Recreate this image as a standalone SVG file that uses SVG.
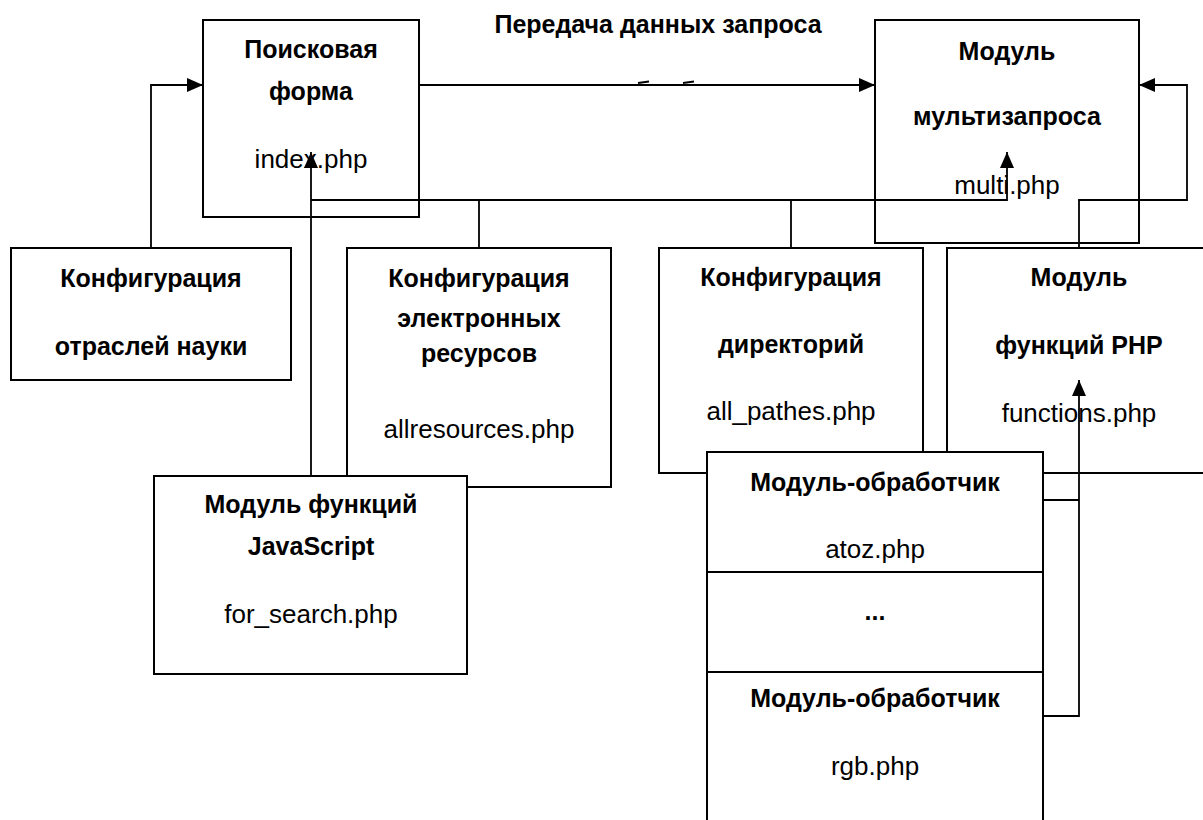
<svg xmlns="http://www.w3.org/2000/svg" width="1203" height="820" viewBox="0 0 1203 820">
<style>
  .box { fill: #ffffff; stroke: #000000; stroke-width: 2; }
  .sep { fill: none; stroke: #000000; stroke-width: 2; }
  .conn { fill: none; stroke: #000000; stroke-width: 1.8; }
  .b { font-family: "Liberation Sans", Arial, sans-serif; font-weight: bold; font-size: 25px; fill: #000000; text-anchor: middle; }
  .r { font-family: "Liberation Sans", Arial, sans-serif; font-size: 26px; fill: #000000; text-anchor: middle; }
</style>
<defs>
  <marker id="arrow" markerUnits="userSpaceOnUse" markerWidth="17" markerHeight="15" refX="16" refY="7" orient="auto">
    <path d="M0,0 L16,7 L0,14 Z" fill="#000000"/>
  </marker>
</defs>
<rect width="1203" height="820" fill="#ffffff"/>

<text class="b" x="658" y="33">Передача данных запроса</text>

<g id="node-search-form">
  <rect class="box" x="203" y="20" width="216" height="197"/>
  <text class="b" x="311" y="58">Поисковая</text>
  <text class="b" x="311" y="100">форма</text>
  <text class="r" x="311" y="168">index.php</text>
</g>

<g id="node-multi">
  <rect class="box" x="875" y="20" width="264" height="223"/>
  <text class="b" x="1007" y="60">Модуль</text>
  <text class="b" x="1007" y="125">мультизапроса</text>
  <text class="r" x="1007" y="194">multi.php</text>
</g>

<g id="node-config-science">
  <rect class="box" x="11" y="248" width="280" height="132"/>
  <text class="b" x="151" y="287">Конфигурация</text>
  <text class="b" x="151" y="355">отраслей науки</text>
</g>

<g id="node-config-resources">
  <rect class="box" x="347" y="248" width="264" height="239"/>
  <text class="b" x="479" y="287">Конфигурация</text>
  <text class="b" x="479" y="327">электронных</text>
  <text class="b" x="479" y="362">ресурсов</text>
  <text class="r" x="479" y="438">allresources.php</text>
</g>

<g id="node-config-dirs">
  <rect class="box" x="659" y="248" width="264" height="225"/>
  <text class="b" x="791" y="286">Конфигурация</text>
  <text class="b" x="791" y="353">директорий</text>
  <text class="r" x="791" y="420">all_pathes.php</text>
</g>

<g id="node-php-functions">
  <rect class="box" x="947" y="248" width="264" height="225"/>
  <text class="b" x="1079" y="286">Модуль</text>
  <text class="b" x="1079" y="354">функций PHP</text>
  <text class="r" x="1079" y="422">functions.php</text>
</g>

<g id="connectors">
  <polyline class="conn" points="151,248 151,85 203,85" marker-end="url(#arrow)"/>
  <line class="conn" x1="419" y1="85" x2="875" y2="85" marker-end="url(#arrow)"/>
  <line class="conn" x1="638" y1="83" x2="649" y2="81.5" stroke-width="2"/>
  <line class="conn" x1="683" y1="83" x2="694" y2="81.5" stroke-width="2"/>
  <line class="conn" x1="311" y1="476" x2="311" y2="152" marker-end="url(#arrow)"/>
  <polyline class="conn" points="311,200 1007,200 1007,152" marker-end="url(#arrow)"/>
  <line class="conn" x1="479" y1="248" x2="479" y2="200"/>
  <line class="conn" x1="791" y1="248" x2="791" y2="200"/>
  <polyline class="conn" points="1079,248 1079,200 1187,200 1187,85 1139,85" marker-end="url(#arrow)"/>
  <polyline class="conn" points="1043,500 1079,500"/>
  <polyline class="conn" points="1043,716 1079,716 1079,380" marker-end="url(#arrow)"/>
</g>

<g id="node-js-functions">
  <rect class="box" x="154" y="476" width="313" height="198"/>
  <text class="b" x="311" y="513">Модуль функций</text>
  <text class="b" x="311" y="555">JavaScript</text>
  <text class="r" x="311" y="623">for_search.php</text>
</g>

<g id="node-handlers">
  <rect class="box" x="707" y="452" width="336" height="390"/>
  <line class="sep" x1="707" y1="572" x2="1043" y2="572"/>
  <line class="sep" x1="707" y1="672" x2="1043" y2="672"/>
  <text class="b" x="875" y="491">Модуль-обработчик</text>
  <text class="r" x="875" y="558">atoz.php</text>
  <text class="b" x="875" y="620">...</text>
  <text class="b" x="875" y="707">Модуль-обработчик</text>
  <text class="r" x="875" y="775">rgb.php</text>
</g>
</svg>
